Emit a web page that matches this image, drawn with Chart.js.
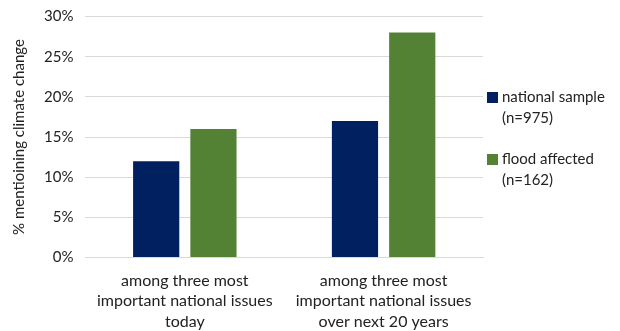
<!DOCTYPE html>
<html>
<head>
<meta charset="utf-8">
<script src="https://cdn.jsdelivr.net/npm/chart.js@4"></script>
<style>
  body { margin: 0; background: #fff; }
  #wrap { position: relative; width: 620px; height: 331px; }
  #legend { position: absolute; left: 487px; top: 86px; font-family: Lato, "Open Sans", sans-serif; font-size: 15px; color: #222; line-height: 21px; }
  .item { position: relative; padding-left: 15px; margin-bottom: 20px; }
  .box { position: absolute; left: 0; top: 6px; width: 11px; height: 11px; }
</style>
</head>
<body>
<div id="wrap">
  <canvas id="chart" width="620" height="331"></canvas>
  <div id="legend"></div>
</div>
<script>
var categories = [
  ['among three most', 'important national issues', 'today'],
  ['among three most', 'important national issues', 'over next 20 years']
];
var seriesNames = [['national sample', '(n=975)'], ['flood affected', '(n=162)']];
var nationalSample = [12, 17];
var floodAffected = [16, 28];
var colors = ['#002060', '#548235'];

var legend = document.getElementById('legend');
seriesNames.forEach(function (name, i) {
  var div = document.createElement('div');
  div.className = 'item';
  div.innerHTML = "<span class='box' style='background:" + colors[i] + "'></span>" + name.join('<br>');
  legend.appendChild(div);
});

var ctx = document.getElementById('chart');
new Chart(ctx, {
  type: 'bar',
  data: {
    labels: categories,
    datasets: [
      { label: seriesNames[0].join(' '), data: nationalSample, backgroundColor: colors[0], categoryPercentage: 0.576, barPercentage: 0.807 },
      { label: seriesNames[1].join(' '), data: floodAffected, backgroundColor: colors[1], categoryPercentage: 0.576, barPercentage: 0.807 }
    ]
  },
  options: {
    responsive: false,
    animation: false,
    layout: { padding: { top: 5, right: 137, bottom: -6, left: 6 } },
    plugins: { legend: { display: false }, tooltip: { enabled: false } },
    scales: {
      x: {
        grid: { display: false },
        border: { color: '#d9d9d9', width: 1 },
        ticks: { font: { family: 'Lato', size: 16, lineHeight: 1.28 }, color: '#222', padding: 5, maxRotation: 0 }
      },
      y: {
        min: 0, max: 30,
        grid: { color: '#d9d9d9', drawTicks: false },
        border: { display: false },
        ticks: { stepSize: 5, padding: 12, font: { family: 'Lato', size: 15, lineHeight: 0.6 }, color: '#222',
          callback: function (v) { return v + '%'; } },
        title: { display: true, text: '% mentioining climate change', font: { family: 'Lato', size: 15 }, color: '#222', padding: 4 }
      }
    }
  }
});
</script>
</body>
</html>
